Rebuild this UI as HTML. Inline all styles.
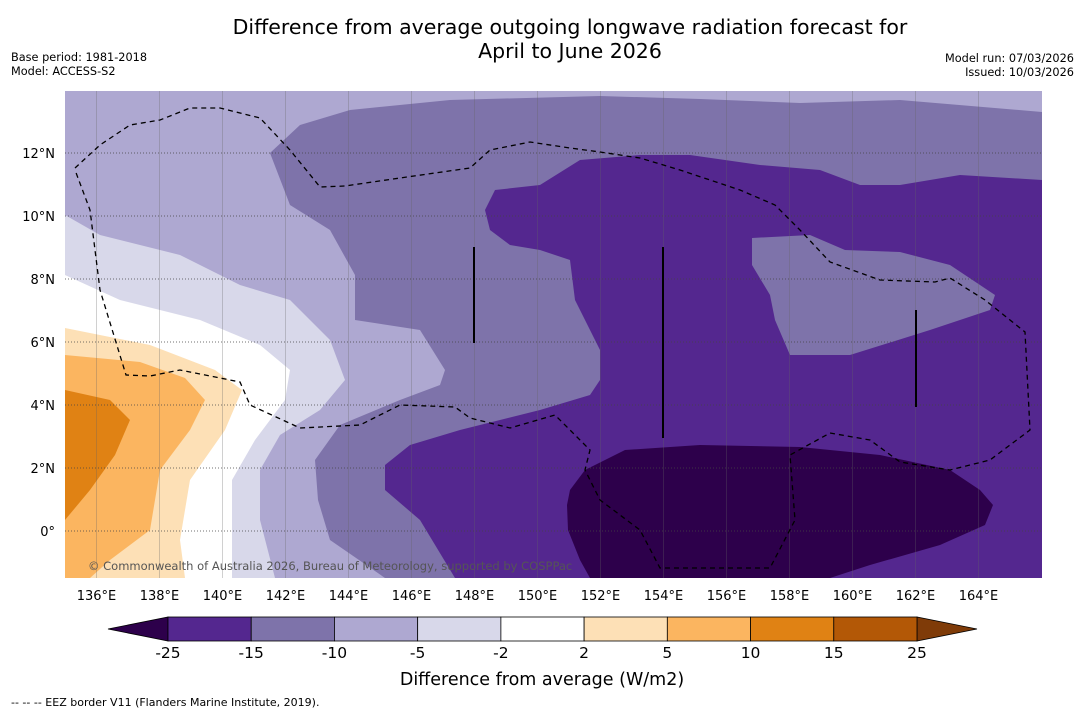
<!DOCTYPE html>
<html><head><meta charset="utf-8">
<style>
body{margin:0;background:#fff;font-family:"DejaVu Sans",sans-serif;}
#wrap{position:relative;width:1085px;height:713px;overflow:hidden;}
.t{position:absolute;color:#000;}
</style></head>
<body>
<div id="wrap">
<div class="t" style="left:120px;width:900px;top:15px;text-align:center;font-size:20.5px;line-height:24px;">Difference from average outgoing longwave radiation forecast for<br>April to June 2026</div>
<div class="t" style="left:11px;top:51px;font-size:11.3px;line-height:14px;">Base period: 1981-2018<br>Model: ACCESS-S2</div>
<div class="t" style="right:11px;top:52px;font-size:11.3px;line-height:14px;text-align:right;">Model run: 07/03/2026<br>Issued: 10/03/2026</div>
<svg id="svg" width="1085" height="713" style="position:absolute;left:0;top:0">
<defs><clipPath id="mc"><rect x="65" y="91" width="977" height="487"/></clipPath></defs>
<g clip-path="url(#mc)">
<rect x="65" y="91" width="977" height="487" fill="#aea8d1"/>
<polygon fill="#7e73aa" points="270,153 300,125 350,110 450,100 600,96 700,99 800,103 900,100 1042,112 1042,578 385,578 330,540 318,500 315,460 340,425 400,400 440,385 445,370 420,330 355,320 355,275 330,230 290,205"/>
<polygon fill="#54278f" points="485,210 495,190 540,185 580,160 640,155 690,155 760,165 820,170 860,185 900,185 960,175 1042,180 1042,578 455,578 420,520 385,490 385,465 410,445 460,430 540,410 590,395 600,380 600,350 575,300 570,260 540,250 510,245 490,230"/>
<polygon fill="#7e73aa" points="752,238 810,235 845,250 900,252 950,265 995,295 990,310 930,330 850,355 790,355 775,320 770,295 752,265"/>
<polygon fill="#2d004b" points="570,490 585,470 625,450 700,445 800,447 880,455 950,470 980,490 993,505 985,525 940,545 870,565 830,578 590,578 580,560 568,530 567,505"/>
<polygon fill="#d8d8ea" points="65,215 100,235 180,255 240,285 290,300 330,340 345,380 320,410 280,435 260,470 260,520 275,578 65,578"/>
<polygon fill="#ffffff" points="65,275 120,300 200,320 260,345 290,370 285,400 255,440 232,480 232,578 65,578"/>
<polygon fill="#fde0b6" points="65,328 150,345 215,370 242,390 225,430 190,480 180,540 185,578 65,578"/>
<polygon fill="#fbb560" points="65,355 140,362 185,378 205,400 190,430 160,470 150,530 110,560 90,578 65,578"/>
<polygon fill="#e08214" points="65,390 110,400 130,420 115,455 90,490 65,520"/>
<g id="grid"></g>
<polyline fill="none" stroke="#000" stroke-width="1.3" stroke-dasharray="5,4" points="75,168 100,145 130,125 160,120 190,108 220,108 260,118 290,150 320,187 345,186 400,178 470,168 490,150 530,142 570,148 600,152 640,158 680,170 740,190 775,205 800,230 830,262 880,280 935,282 950,278 985,300 1025,332 1030,430 990,460 950,470 900,462 870,440 830,433 790,455 795,520 770,568 660,568 640,530 600,500 585,470 590,450 555,415 510,428 470,418 455,407 400,405 360,425 300,428 250,405 240,382 180,370 150,376 126,375 100,290 90,210 75,170"/>
<line x1="474" y1="247" x2="474" y2="343" stroke="#000" stroke-width="2"/>
<line x1="663" y1="247" x2="663" y2="438" stroke="#000" stroke-width="2"/>
<line x1="916" y1="310" x2="916" y2="407" stroke="#000" stroke-width="2"/>
</g>
<text x="88" y="570" font-size="11.5" fill="#555" font-family="DejaVu Sans">© Commonwealth of Australia 2026, Bureau of Meteorology, supported by COSPPac</text>
<g id="axes" font-family="DejaVu Sans" font-size="13"></g>
<g id="cbar" font-family="DejaVu Sans"></g>
<text x="542" y="685" text-anchor="middle" font-size="17.5" font-family="DejaVu Sans">Difference from average (W/m2)</text>
<text x="11" y="706" font-size="11" font-family="DejaVu Sans">-- -- -- EEZ border V11 (Flanders Marine Institute, 2019).</text>
</svg>
</div>
<script>
const lons=[136,138,140,142,144,146,148,150,152,154,156,158,160,162,164];
const lats=[0,2,4,6,8,10,12];
const levels=["-25","-15","-10","-5","-2","2","5","10","15","25"];
const levelColors=["#54278f","#7e73aa","#aea8d1","#d8d8ea","#ffffff","#fde0b6","#fbb560","#e08214","#b35806"];
const NS="http://www.w3.org/2000/svg";
function xL(l){return 65+(l-135)*31.5;}
function yL(l){return 531-l*31.5;}
function mk(t,a,p){const e=document.createElementNS(NS,t);for(const k in a)e.setAttribute(k,a[k]);p.appendChild(e);return e;}
const grid=document.getElementById('grid'),axes=document.getElementById('axes'),cb=document.getElementById('cbar');
lons.forEach(l=>{
 const g=mk('line',{x1:xL(l),x2:xL(l),y1:91,y2:578,stroke:'#666','stroke-width':0.5,'stroke-opacity':0.6},grid);
 
 
 const t=mk('text',{x:xL(l),y:600,'text-anchor':'middle'},axes);t.textContent=l+'°E';
 
 
});
lats.forEach(l=>{
 const g=mk('line',{x1:65,x2:1042,y1:yL(l),y2:yL(l),stroke:'#444','stroke-width':0.7,'stroke-dasharray':'1,2'},grid);
 
 
 const t=mk('text',{x:55,y:yL(l)+5,'text-anchor':'end'},axes);t.textContent=l===0?'0°':l+'°N';
 
 
});
const x0=168,w=(917-168)/9,y0=617,h=24;
const lt=mk('polygon',{points:`108,629 ${x0},${y0} ${x0},${y0+h}`,fill:'#2d004b',stroke:'#000','stroke-width':0.8},cb);


const rt=mk('polygon',{points:`977,629 917,${y0} 917,${y0+h}`,fill:'#7f3b08',stroke:'#000','stroke-width':0.8},cb);


levelColors.forEach((c,i)=>{
 const r=mk('rect',{x:x0+i*w,y:y0,width:w,height:h,fill:c,stroke:'#000','stroke-width':0.8},cb);
 
 
});
levels.forEach((s,i)=>{
 const t=mk('text',{x:x0+i*w,y:658,'text-anchor':'middle','font-size':15.5},cb);t.textContent=s;
 
 
});
</script>
</body></html>
